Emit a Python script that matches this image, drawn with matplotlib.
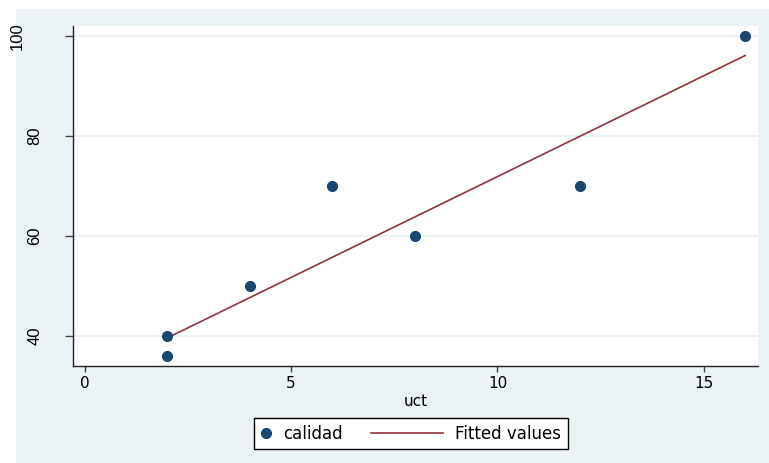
import matplotlib.pyplot as plt
from matplotlib.patches import Rectangle
from matplotlib.lines import Line2D
from matplotlib.legend_handler import HandlerBase
import matplotlib.transforms as mtransforms

# data
uct = [2, 2, 4, 6, 8, 12, 16]
calidad = [40, 36, 50, 70, 60, 70, 100]
fit_x = [2, 16]
fit_y = [39.6, 96.1]

xticks = [0, 5, 10, 15]
yticks = [40, 60, 80, 100]

navy = '#1a476f'
maroon = '#90353b'
bg = '#eaf2f3'

plt.rcParams['font.family'] = ['DejaVu Sans']


class LongLine(HandlerBase):
    # fitted-line key that reaches back into the column gap, like Stata draws it
    def create_artists(self, legend, orig_handle, xdescent, ydescent,
                       width, height, fontsize, trans):
        y = height / 2 - ydescent
        ln = Line2D([-xdescent - 3.72 * fontsize, -xdescent + width], [y, y],
                    color=orig_handle.get_color(),
                    linewidth=orig_handle.get_linewidth(), transform=trans)
        return [ln]


W, H = 769, 463
fig = plt.figure(figsize=(W / 100, H / 100), dpi=100, facecolor='white')

# outer graph region
fig.patches.append(Rectangle((16 / W, 0), 1 - 16 / W, 1 - 9 / H,
                             transform=fig.transFigure, facecolor=bg,
                             edgecolor='none', zorder=-10))

ax = fig.add_axes([73 / W, 97 / H, (758 - 73) / W, (366 - 26) / H])
ax.set_facecolor('white')

pts, = ax.plot(uct, calidad, 'o', color=navy, markersize=7, label='calidad',
               zorder=3, clip_on=False)
fit, = ax.plot(fit_x, fit_y, '-', color=maroon, linewidth=1.2,
               label='Fitted values', zorder=2)

ax.set_xlim(-0.28, 16.31)
ax.set_ylim(34, 102)
ax.set_xticks(xticks)
ax.set_yticks(yticks)
ax.tick_params(axis='x', labelsize=11, length=4.5, width=1, color='#444444', pad=2.5)
ax.tick_params(axis='y', length=5.8, width=1, color='#444444', labelleft=False)

# y labels, rotated; Stata shifts the 3-digit one further left
ylab_tr = mtransforms.blended_transform_factory(fig.transFigure, ax.transData)
for v in yticks:
    s = str(v)
    xc = 35 - (len(s) - 2) * 17.5
    ax.text(xc / W, v, s, transform=ylab_tr, rotation=90, ha='center',
            va='center', fontsize=12, family=['Liberation Sans', 'DejaVu Sans'])

ax.yaxis.grid(True, color=bg, linewidth=1.5, zorder=0)
ax.set_axisbelow(True)

for s in ['top', 'right']:
    ax.spines[s].set_visible(False)
for s in ['left', 'bottom']:
    ax.spines[s].set_color('#222222')
    ax.spines[s].set_linewidth(1)

ax.set_xlabel('uct', fontsize=11, labelpad=2)

leg = ax.legend(handles=[pts, fit], loc='upper left',
                bbox_to_anchor=(254 / W, 1 - 418 / H),
                bbox_transform=fig.transFigure, ncol=2, fontsize=12,
                frameon=True, fancybox=False, borderpad=0.4, borderaxespad=0,
                handlelength=0.6, handletextpad=0.72, columnspacing=5.45,
                handler_map={fit: LongLine()})
leg.get_frame().set_edgecolor('black')
leg.get_frame().set_linewidth(1)
leg.get_frame().set_facecolor('white')
leg.get_frame().set_alpha(1)

fig.savefig('out.png', dpi=100, facecolor=fig.get_facecolor())
